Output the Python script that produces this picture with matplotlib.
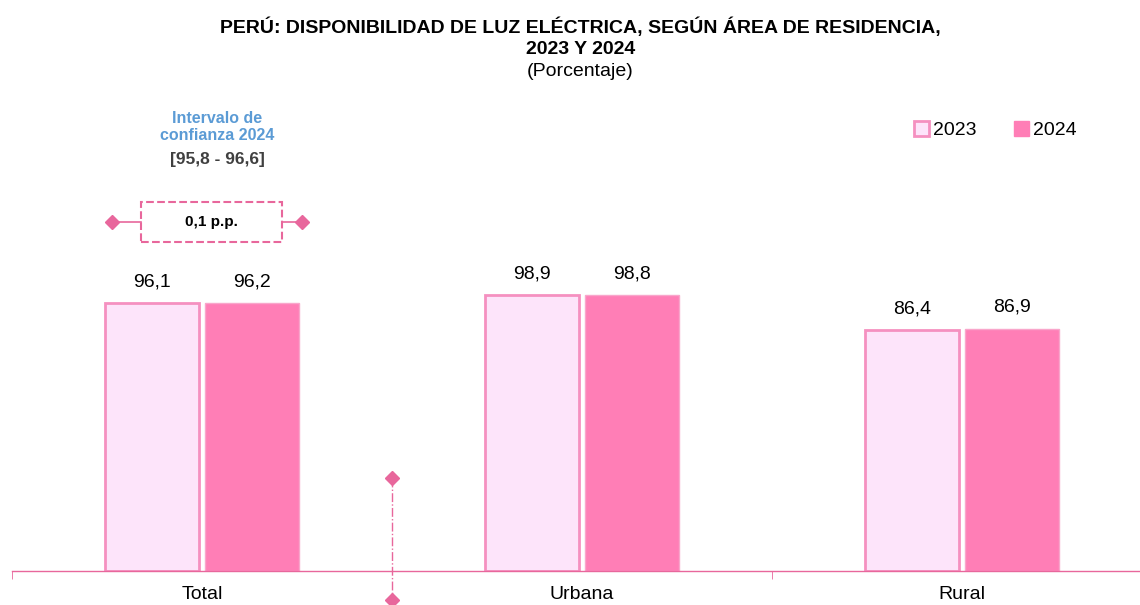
import numpy as np
from matplotlib import pyplot as plt
from matplotlib.patches import Rectangle, Patch

plt.rcParams['font.family'] = ['Liberation Sans', 'DejaVu Sans']

areas = ["Total", "Urbana", "Rural"]
years = ["2023", "2024"]
v2023 = [96.1, 98.9, 86.4]
v2024 = [96.2, 98.8, 86.9]
ic_label = "[95,8 - 96,6]"
diff_label = "0,1 p.p."

c_light = "#FDE4FA"
c_light_edge = "#F590C0"
c_dark = "#FF7EB6"
c_line = "#E8679C"

fig = plt.figure(figsize=(11.4, 6.05), dpi=100)
ax = fig.add_axes([12/1140, 34/605, 1 - 12/1140, 471/605])

x = np.arange(len(areas))
w = 0.247
ax.bar(x - 0.131, v2023, w, color=c_light, edgecolor=c_light_edge, linewidth=2)
ax.bar(x + 0.131, v2024, w, color=c_dark, edgecolor="#F9A6CB", linewidth=1)

def fmt(v):
    return f"{v:.1f}".replace(".", ",")

for i in range(len(areas)):
    ax.text(x[i] - 0.131, v2023[i] + 4.5, fmt(v2023[i]), ha="center", va="bottom", fontsize=14)
    ax.text(x[i] + 0.131, v2024[i] + 4.5, fmt(v2024[i]), ha="center", va="bottom", fontsize=14)

ax.set_xlim(-0.5, -0.5 + 1128/380)
ax.set_ylim(0, 168.8)
for s in ["top", "right", "left"]:
    ax.spines[s].set_visible(False)
ax.spines["bottom"].set_color(c_line)
ax.spines["bottom"].set_linewidth(1)
ax.set_yticks([])
ax.set_xticks(x)
ax.set_xticklabels(areas, fontsize=14)
ax.tick_params(axis="x", length=0, pad=11)
ax.set_xticks([-0.5, 1.5], minor=True)
ax.tick_params(axis="x", which="minor", length=6, color=c_line)

# separador
ax.plot([0.5, 0.5], [33.3, -10.4], ls="-.", lw=1, color=c_line,
        marker="D", markersize=7, clip_on=False)

# intervalo de confianza
ax.add_patch(Rectangle((-0.1605, 117.9), 0.371, 14.4, fill=False,
                       edgecolor=c_line, ls="--", lw=1.5))
ax.plot([-0.237, -0.1605], [125.1, 125.1], color=c_line, lw=1.2, clip_on=False)
ax.plot([0.2105, 0.263], [125.1, 125.1], color=c_line, lw=1.2, clip_on=False)
ax.plot([-0.237, 0.263], [125.1, 125.1], ls="none", marker="D", markersize=7,
        color=c_line, clip_on=False)
ax.text(0.025, 125.1, diff_label, ha="center", va="center", fontsize=11, fontweight="bold")
ax.text(0.04, 159.1, "Intervalo de\nconfianza 2024", ha="center", va="center",
        fontsize=11.5, fontweight="bold", color="#5B9BD5", linespacing=1.2,
        clip_on=False)
ax.text(0.04, 147.3, ic_label, ha="center", va="center", fontsize=12.5,
        fontweight="bold", color="#404040")

handles = [Patch(facecolor=c_light, edgecolor=c_light_edge, lw=2),
           Patch(facecolor=c_dark, edgecolor=c_dark)]
fig.legend(handles, years, loc="center", bbox_to_anchor=(0.873, 0.785), ncol=2,
           frameon=False, fontsize=14, handlelength=0.8, handleheight=0.8,
           handletextpad=0.2, columnspacing=1.9)

fig.text(0.509, 1 - 27/605, "PERÚ: DISPONIBILIDAD DE LUZ ELÉCTRICA, SEGÚN ÁREA DE RESIDENCIA,",
         ha="center", va="center", fontsize=14, fontweight="bold")
fig.text(0.509, 1 - 50/605, "2023 Y 2024", ha="center", va="center", fontsize=14,
         fontweight="bold")
fig.text(0.509, 1 - 72/605, "(Porcentaje)", ha="center", va="center", fontsize=14)

fig.savefig("out.png", dpi=100)
